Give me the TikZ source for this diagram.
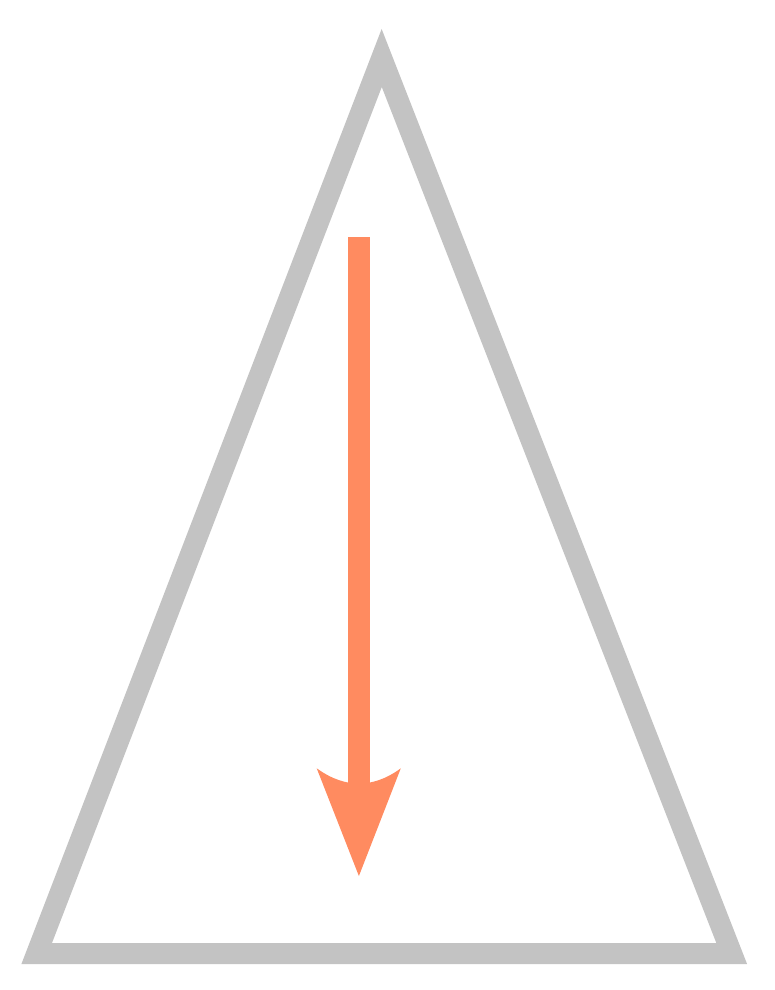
\documentclass[tikz,border=0pt]{standalone}
\definecolor{tri}{RGB}{195,195,195}
\definecolor{arr}{RGB}{255,139,96}
\tikzset{
  tribox/.style={draw=tri, line width=21pt, line join=miter, miter limit=10},
  shaft/.style={draw=arr, line width=21.7pt},
  headfill/.style={fill=arr, draw=none}
}
\begin{document}
\begin{tikzpicture}[x=1pt,y=-1pt]
  \useasboundingbox (0,0) rectangle (775,990);
  \coordinate (apex) at (381.7,58);
  \coordinate (bl) at (36.7,953.5);
  \coordinate (br) at (731.7,953.5);
  \draw[tribox] (apex) -- (bl) -- (br) -- cycle;
  \coordinate (start) at (358.9,237.3);
  \coordinate (end) at (358.9,784);
  \draw[shaft] (start) -- (end);
  \coordinate (tip) at (358.9,876);
  \fill[headfill] (tip) -- (316.7,768.3)
     .. controls (333,780) and (346,783) .. (end)
     .. controls (371.8,783) and (384.8,780) .. (400.8,768.3) -- cycle;
\end{tikzpicture}
\end{document}
